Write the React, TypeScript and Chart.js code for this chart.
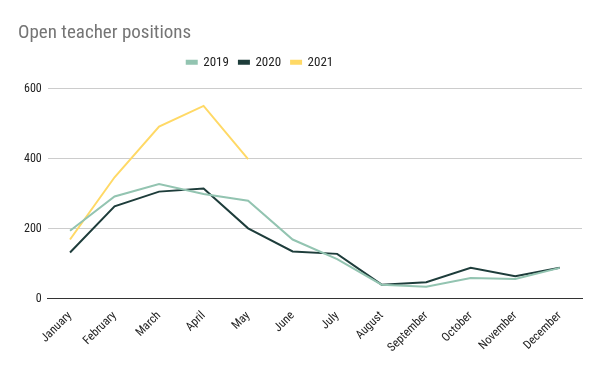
import React, { useEffect, useRef } from "react";
import { Chart, registerables } from "chart.js";

Chart.register(...registerables);

const months = ["January","February","March","April","May","June","July","August","September","October","November","December"];
const series2019 = [194, 292, 328, 299, 280, 169, 113, 40, 34, 59, 56, 88];
const series2020 = [132, 264, 306, 315, 201, 135, 128, 40, 47, 88, 64, 88];
const series2021 = [169, 347, 492, 551, 399, null, null, null, null, null, null, null];
const yTicks = [0, 200, 400, 600];

const FONT = "'Liberation Sans Narrow', 'Roboto Condensed', Roboto, sans-serif";

const legendShift = {
  id: "legendShift",
  afterLayout(chart: any) {
    const lg = chart.legend;
    if (lg) {
      lg.left -= 40;
      lg.right -= 40;
      lg.top -= 10;
      lg.bottom -= 10;
    }
  },
};

export default function App() {
  const ref = useRef<HTMLCanvasElement>(null);
  useEffect(() => {
    document.body.style.margin = "0";
    const ctx = ref.current!;
    const chart = new Chart(ctx, {
      type: "line",
      data: {
        labels: months,
        datasets: [
          { label: "2019", data: series2019, borderColor: "#93c4b1", backgroundColor: "#93c4b1", borderWidth: 2, pointRadius: 0, tension: 0 },
          { label: "2020", data: series2020, borderColor: "#1e3d3b", backgroundColor: "#1e3d3b", borderWidth: 2, pointRadius: 0, tension: 0 },
          { label: "2021", data: series2021, borderColor: "#ffd966", backgroundColor: "#ffd966", borderWidth: 2, pointRadius: 0, tension: 0 },
        ],
      },
      plugins: [legendShift],
      options: {
        animation: false,
        responsive: false,
        layout: { padding: { left: 18, right: 18, top: 0, bottom: 14 } },
        plugins: {
          title: {
            display: true,
            text: "Open teacher positions",
            align: "start",
            color: "#757575",
            font: { family: FONT, size: 19, weight: "normal" },
            padding: { top: 22, bottom: 11 },
          },
          legend: {
            position: "top",
            labels: {
              boxWidth: 10,
              boxHeight: 3,
              color: "#222",
              font: { family: FONT, size: 13 },
              padding: 10,
            },
          },
          tooltip: { enabled: false },
        },
        scales: {
          x: {
            offset: true,
            grid: { display: false },
            border: { color: "#333", width: 1 },
            ticks: { color: "#222", font: { family: FONT, size: 12 }, maxRotation: 45, minRotation: 45, autoSkip: false, padding: 2 },
          },
          y: {
            min: 0,
            max: 600,
            afterBuildTicks: (axis: any) => { axis.ticks = yTicks.map((v) => ({ value: v })); },
            grid: { color: "#cccccc", drawTicks: false },
            border: { display: false },
            ticks: { color: "#222", font: { family: FONT, size: 12 }, padding: 6 },
          },
        },
      },
    });
    return () => chart.destroy();
  }, []);
  return <canvas ref={ref} width={600} height={371} style={{ display: "block" }} />;
}
